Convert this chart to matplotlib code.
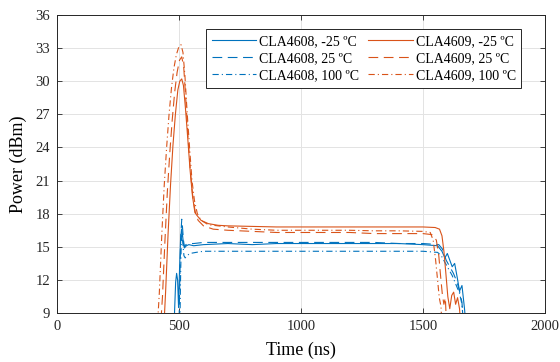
import matplotlib.pyplot as plt
import numpy as np

plt.rcParams["font.family"] = ["Liberation Serif", "DejaVu Serif"]
plt.rcParams["lines.scale_dashes"] = False

BLUE = "#0072BD"
ORANGE = "#D95319"

# ---------------------------------------------------------------------------
# Datos (tiempo en ns, potencia en dBm)
# ---------------------------------------------------------------------------
t_b1 = [478, 486, 490, 494, 498, 502, 506, 510, 514, 518, 522, 530, 540, 560,
        600, 700, 800, 900, 1000, 1100, 1200, 1300, 1400, 1500, 1560, 1578,
        1590, 1600, 1610, 1620, 1630, 1640, 1650, 1660, 1670, 1680]
p_b1 = [7.0, 11.8, 12.6, 12.0, 9.5, 13.0, 15.6, 16.6, 16.1, 15.3, 14.9, 15.1,
        15.2, 15.1, 15.2, 15.3, 15.2, 15.3, 15.3, 15.3, 15.3, 15.3, 15.3, 15.2,
        15.1, 14.6, 14.0, 14.4, 13.8, 13.2, 13.5, 12.3, 11.0, 11.5, 9.5, 7.0]

t_b2 = [499, 503, 507, 511, 514, 518, 522, 528, 540, 560, 600, 700, 800, 900,
        1000, 1100, 1200, 1300, 1400, 1500, 1565, 1580, 1595, 1610, 1625,
        1640, 1650, 1660, 1668]
p_b2 = [7.0, 12.0, 16.0, 17.5, 16.8, 15.6, 15.0, 15.2, 15.3, 15.3, 15.4, 15.4,
        15.4, 15.4, 15.4, 15.4, 15.4, 15.4, 15.3, 15.3, 15.2, 14.8, 13.8, 13.2,
        12.6, 11.8, 11.0, 10.0, 7.0]

t_b3 = [503, 506, 509, 512, 516, 520, 525, 532, 545, 570, 600, 700, 800, 900,
        1000, 1100, 1200, 1300, 1400, 1500, 1560, 1575, 1590, 1605, 1620,
        1635, 1650, 1660, 1670]
p_b3 = [7.0, 12.0, 15.4, 16.2, 15.2, 14.2, 14.0, 14.2, 14.4, 14.5, 14.6, 14.6,
        14.6, 14.6, 14.6, 14.6, 14.6, 14.6, 14.6, 14.6, 14.5, 14.2, 13.6, 13.0,
        12.4, 11.6, 10.8, 9.8, 7.0]

t_o1 = [436, 445, 455, 465, 475, 485, 495, 503, 511, 518, 526, 535, 545, 555,
        565, 575, 590, 620, 660, 700, 800, 900, 1000, 1100, 1200, 1300, 1400,
        1500, 1550, 1568, 1578, 1586, 1594, 1602, 1610, 1618, 1626, 1634,
        1642, 1650, 1658]
p_o1 = [7.0, 11.0, 16.2, 20.6, 24.2, 27.0, 29.2, 30.0, 30.2, 29.6, 27.6, 25.0,
        22.0, 19.6, 18.1, 17.8, 17.4, 17.1, 16.95, 16.9, 16.85, 16.8, 16.8,
        16.8, 16.8, 16.8, 16.8, 16.8, 16.75, 16.6, 16.0, 14.6, 12.6, 10.5,
        9.4, 10.6, 10.9, 9.8, 10.4, 9.4, 7.0]

t_o2 = [422, 432, 442, 452, 462, 472, 482, 492, 502, 511, 519, 527, 536, 546,
        556, 566, 578, 600, 640, 700, 800, 900, 1000, 1100, 1200, 1300, 1400,
        1500, 1540, 1555, 1565, 1573, 1580, 1586, 1592, 1598]
p_o2 = [7.0, 10.5, 15.5, 20.0, 23.5, 26.5, 29.0, 30.8, 31.9, 32.2, 31.3, 28.6,
        25.2, 22.0, 19.6, 18.2, 17.4, 16.9, 16.6, 16.5, 16.4, 16.3, 16.3, 16.3,
        16.3, 16.2, 16.2, 16.2, 16.1, 15.6, 14.2, 12.2, 10.6, 9.8, 10.4, 7.0]

t_o3 = [409, 419, 429, 439, 449, 459, 469, 479, 489, 499, 508, 516, 524, 533,
        543, 553, 563, 575, 590, 620, 700, 800, 900, 1000, 1100, 1200, 1300,
        1400, 1500, 1530, 1542, 1552, 1560, 1567, 1574, 1580]
p_o3 = [7.0, 10.8, 16.0, 20.5, 24.0, 27.0, 29.4, 31.2, 32.4, 33.1, 33.3, 32.6,
        30.5, 27.2, 24.0, 21.0, 19.2, 18.0, 17.4, 17.0, 16.8, 16.6, 16.5, 16.5,
        16.5, 16.5, 16.45, 16.45, 16.4, 16.3, 15.6, 13.8, 12.0, 10.4, 9.6, 7.0]

series = [
    (t_b1, p_b1, BLUE, "solid", "CLA4608, -25 ºC"),
    (t_b2, p_b2, BLUE, "dashed", "CLA4608, 25 ºC"),
    (t_b3, p_b3, BLUE, "dashdot", "CLA4608, 100 ºC"),
    (t_o1, p_o1, ORANGE, "solid", "CLA4609, -25 ºC"),
    (t_o2, p_o2, ORANGE, "dashed", "CLA4609, 25 ºC"),
    (t_o3, p_o3, ORANGE, "dashdot", "CLA4609, 100 ºC"),
]

DASHES = {
    "solid": "-",
    "dashed": (0, (7, 4)),
    "dashdot": (0, (4.5, 2.2, 0.8, 2.2)),
}

fig = plt.figure(figsize=(5.6, 3.62), dpi=100)
ax = fig.add_axes([0.102, 0.135, 0.871, 0.824])

for t, p, color, style, label in series:
    ax.plot(t, p, color=color, linestyle=DASHES[style], lw=0.8, label=label)

ax.set_xlim(0, 2000)
ax.set_ylim(9, 36)
ax.set_xticks([0, 500, 1000, 1500, 2000])
ax.set_yticks(np.arange(9, 37, 3))
ax.grid(color="#e3e3e3", lw=0.7)
ax.set_axisbelow(True)
ax.tick_params(direction="in", top=True, right=True, length=3.5, width=0.6,
               labelsize=10.5, colors="#262626", pad=5)
for s in ax.spines.values():
    s.set_color("#262626")
    s.set_linewidth(0.7)

ax.set_xlabel("Time (ns)", fontsize=13, labelpad=6)
ax.set_ylabel("Power (dBm)", fontsize=13, labelpad=6)

leg = ax.legend(ncol=2, loc="upper right", fontsize=10, frameon=True,
                fancybox=False, edgecolor="#262626", framealpha=1,
                handlelength=3.2, handletextpad=0.2, columnspacing=0.7,
                labelspacing=0.3, borderpad=0.4,
                bbox_to_anchor=(0.966, 0.975))
leg.get_frame().set_linewidth(0.7)

fig.savefig("out.png", dpi=100)
